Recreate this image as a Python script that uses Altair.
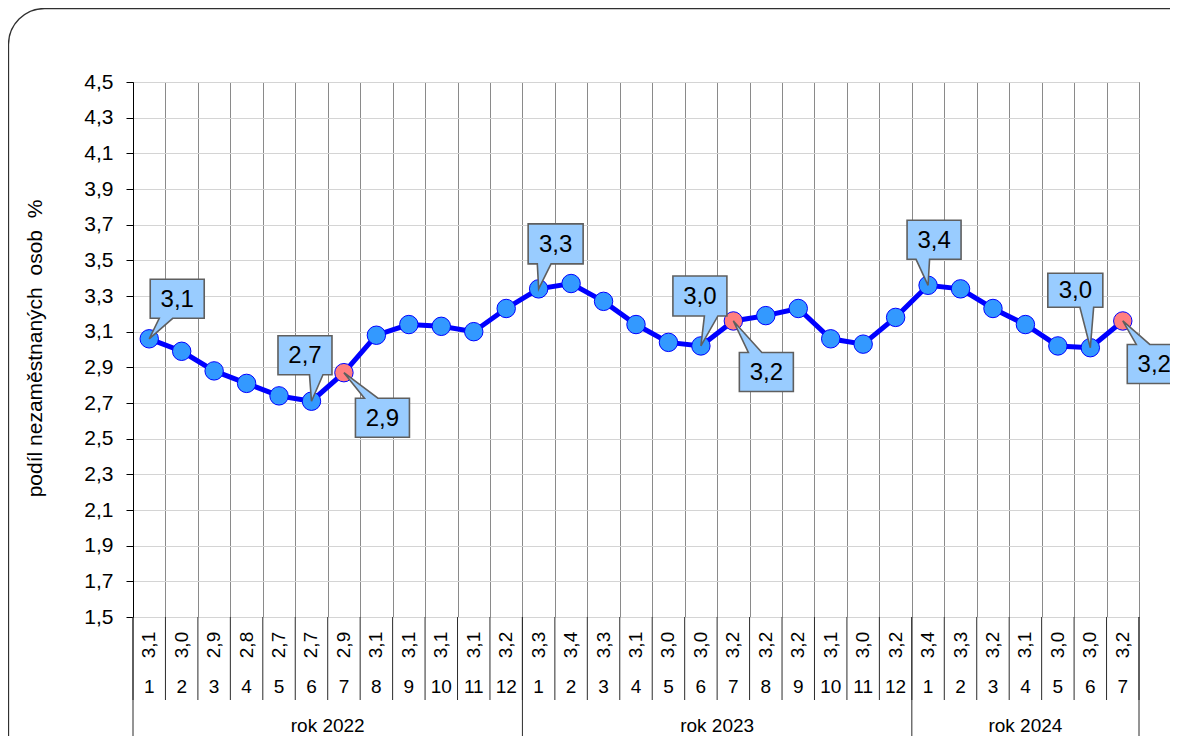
import altair as alt
import pandas as pd

# ---------------- data ----------------
years = [2022] * 12 + [2023] * 12 + [2024] * 7
months = list(range(1, 13)) + list(range(1, 13)) + list(range(1, 8))
values = [3.06, 2.99, 2.88, 2.81, 2.74, 2.71, 2.87, 3.08, 3.14, 3.13, 3.10, 3.23,
          3.34, 3.37, 3.27, 3.14, 3.04, 3.02, 3.16, 3.19, 3.23, 3.06, 3.03, 3.18,
          3.36, 3.34, 3.23, 3.14, 3.02, 3.01, 3.16]
table_labels = ["3,1", "3,0", "2,9", "2,8", "2,7", "2,7", "2,9", "3,1", "3,1", "3,1", "3,1", "3,2",
                "3,3", "3,4", "3,3", "3,1", "3,0", "3,0", "3,2", "3,2", "3,2", "3,1", "3,0", "3,2",
                "3,4", "3,3", "3,2", "3,1", "3,0", "3,0", "3,2"]
year_labels = ["rok 2022", "rok 2023", "rok 2024"]
y_ticks = [round(1.5 + 0.2 * i, 1) for i in range(16)]
title_text = "Vývoj podílu nezaměstnaných ve Středočeském kraji v letech 2022–2024"
y_title = "podíl nezaměstnaných\u00a0 osob\u00a0 %"

df = pd.DataFrame({"year": years, "month": months, "value": values, "label": table_labels})
df["idx"] = range(len(df))
df["xc"] = df["idx"] + 0.5

bounds = pd.DataFrame({"b": list(range(len(df) + 1))})
yg = df.groupby("year")["idx"].agg(["min", "max"]).reset_index()
yg["start"] = yg["min"]
yg["end"] = yg["max"] + 1
yg["center"] = (yg["start"] + yg["end"]) / 2
yg["ylabel"] = year_labels
ybounds = pd.DataFrame({"b": sorted(set(yg["start"].tolist() + yg["end"].tolist()))})

# ---------------- style ----------------
FONT = "Liberation Sans"
W, H = 1006, 535
x_scale = alt.Scale(domain=[0, len(df)], nice=False, zero=False)
y_scale = alt.Scale(domain=[1.5, 4.5], nice=False, zero=False)
x_axis = alt.Axis(values=list(range(len(df) + 1)), grid=True, gridColor="#8a8a8a",
                  gridWidth=1, labels=False, ticks=False, domain=False, title=None)
y_axis = alt.Axis(values=y_ticks, grid=True, gridColor="#d4d4d4", gridWidth=1,
                  labelExpr="replace(format(datum.value, '.1f'), '.', ',')",
                  labelFontSize=21, labelFont=FONT, labelColor="black", labelPadding=13,
                  tickSize=7, tickColor="black", domainColor="black",
                  title=y_title, titleFontSize=21, titleFont=FONT, titleFontWeight="normal",
                  titleColor="black", titleX=-98, titleY=266, titleAngle=270,
                  titleAlign="center", titleBaseline="middle")

X = alt.X("xc:Q", scale=x_scale, axis=x_axis)
Y = alt.Y("value:Q", scale=y_scale, axis=y_axis)

base = alt.Chart(df)

line = base.mark_line(color="#0000FF", strokeWidth=5).encode(x=X, y=Y)
points = base.mark_circle(size=340, stroke="#0000FF", strokeWidth=1, opacity=1).encode(
    x=X, y=Y,
    color=alt.condition("datum.month == 7", alt.value("#FF7F7F"), alt.value("#3399FF")),
)

# callouts: box centre offset (px) relative to the point, box size
callouts = {
    0: (28, -40, 54, 39),
    5: (-6.5, -46, 54, 39),
    6: (38.5, 45, 54, 39),
    12: (17, -45, 55, 40),
    17: (-1, -50, 54, 40),
    18: (33, 51, 54, 39),
    24: (6, -45.5, 54, 39),
    29: (-15, -57.5, 55, 34),
    30: (31.5, 43, 54, 39),
}


def callout_path(cx, cy, w, h):
    L, R, T, B = cx - w / 2, cx + w / 2, cy - h / 2, cy + h / 2
    if -cx < 0:
        b1, b2 = L + w * 2 / 12, L + w * 5 / 12
    else:
        b1, b2 = L + w * 7 / 12, L + w * 10 / 12
    if cy < 0:
        pts = [(L, T), (R, T), (R, B), (b2, B), (0, 0), (b1, B), (L, B)]
    else:
        pts = [(L, T), (b1, T), (0, 0), (b2, T), (R, T), (R, B), (L, B)]
    return "M " + " L ".join(f"{x:.2f} {y:.2f}" for x, y in pts) + " Z"


callout_layers = []
for k, (cx, cy, w, h) in callouts.items():
    sub = base.transform_filter(f"datum.idx == {k}")
    box = sub.mark_point(shape=callout_path(cx, cy, w, h), size=4, filled=True,
                         fill="#99CCFF", stroke="#5f5f5f", strokeWidth=1.6,
                         opacity=1, fillOpacity=1, strokeOpacity=1).encode(x=X, y=Y)
    txt = sub.mark_text(dx=cx, dy=cy + 1, fontSize=24, font=FONT, color="black",
                        align="center", baseline="middle").encode(x=X, y=Y, text="label:N")
    callout_layers += [box, txt]

# ---------------- data table below the plot ----------------
XB = alt.X("b:Q", scale=x_scale, axis=x_axis)
month_rules = alt.Chart(bounds).mark_rule(color="#2b2b2b", strokeWidth=1).encode(
    x=XB, y=alt.value(H), y2=alt.value(H + 83))
year_rules = alt.Chart(ybounds).mark_rule(color="#2b2b2b", strokeWidth=1).encode(
    x=XB, y=alt.value(H), y2=alt.value(H + 121))
val_text = base.mark_text(angle=270, fontSize=19, font=FONT, color="black",
                          align="center", baseline="middle").encode(
    x=X, y=alt.value(H + 28), text="label:N")
month_text = base.mark_text(fontSize=19, font=FONT, color="black",
                            align="center", baseline="middle").encode(
    x=X, y=alt.value(H + 70), text="month:N")
year_text = alt.Chart(yg).mark_text(fontSize=19, font=FONT, color="black",
                                    align="center", baseline="middle").encode(
    x=alt.X("center:Q", scale=x_scale, axis=x_axis), y=alt.value(H + 109), text="ylabel:N")

one = alt.Chart(pd.DataFrame({"t": [title_text]}))
frame = one.mark_rect(cornerRadius=36, fill="white", fillOpacity=0, stroke="#303030",
                      strokeWidth=1.3).encode(
    x=alt.value(-124.5), x2=alt.value(W + 120), y=alt.value(-73.5), y2=alt.value(H + 200))
title = one.mark_text(fontSize=22, font=FONT, fontWeight="bold", color="black",
                      align="left", baseline="bottom").encode(
    x=alt.value(-130), y=alt.value(-76), text="t:N")

chart = alt.layer(
    frame, title, line, points, *callout_layers,
    month_rules, year_rules, val_text, month_text, year_text,
).properties(
    width=W, height=H,
    autosize=alt.AutoSizeParams(type="none"),
    padding={"left": 125, "top": 74, "right": 31, "bottom": 119},
    background="white",
).configure_view(stroke="black", strokeWidth=1)

chart.save("out.html", embed_options={"renderer": "svg", "actions": False})
